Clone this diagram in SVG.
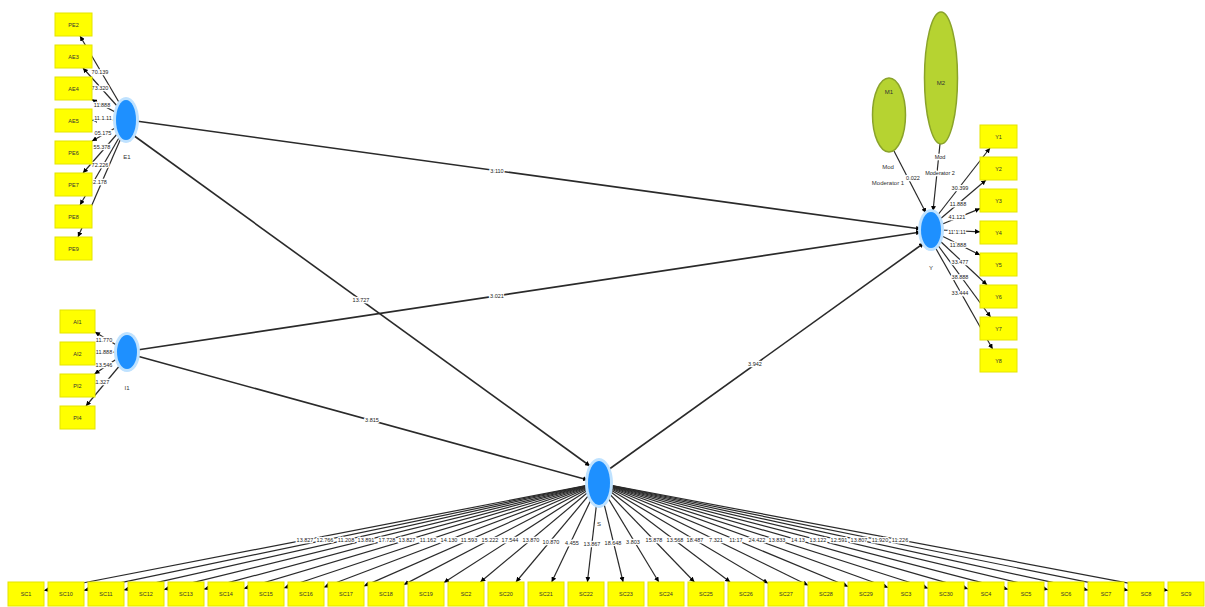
<svg xmlns="http://www.w3.org/2000/svg" width="1205" height="607" viewBox="0 0 1205 607">
<style>
.ind{fill:#ffff00;stroke:#e4e400;stroke-width:1}
.it{font-family:"Liberation Sans",Arial,sans-serif;font-size:5.5px;fill:#333;text-anchor:middle;dominant-baseline:central}
.lv{fill:#1e90ff}
.glow{fill:#bfe2ff}
.mod{fill:#b6d331;stroke:#8aa32a;stroke-width:1.5}
.c{stroke:#2a2a2a;stroke-width:1.2;fill:none;marker-end:url(#ah)}
.cs{stroke:#2a2a2a;stroke-width:1.6;fill:none;marker-end:url(#ah)}
.lb{font-family:"Liberation Sans",Arial,sans-serif;font-size:5.5px;fill:#222;text-anchor:middle;dominant-baseline:central;paint-order:stroke;stroke:#fff;stroke-width:2.5px}
.nl{font-family:"Liberation Sans",Arial,sans-serif;font-size:6px;fill:#333;text-anchor:middle;dominant-baseline:central}
</style>
<defs>
<marker id="ah" viewBox="0 0 10 10" refX="10" refY="5" markerWidth="5" markerHeight="5" orient="auto" markerUnits="userSpaceOnUse"><path d="M0,0 L10,5 L0,10 z" fill="#000"/></marker>
</defs>
<rect width="1205" height="607" fill="#fff"/>

<g id="connectors">
<!-- structural paths -->
<line class="cs" x1="136" y1="121" x2="921" y2="229"/>
<line class="cs" x1="137" y1="350" x2="921" y2="232"/>
<line class="cs" x1="133" y1="135" x2="590" y2="466"/>
<line class="cs" x1="137" y1="356" x2="588" y2="480"/>
<line class="cs" x1="608" y1="470" x2="924" y2="243"/>
<!-- moderators -->
<line class="c" x1="894" y1="151" x2="926" y2="213"/>
<line class="c" x1="940" y1="144" x2="933" y2="211"/>
<!-- E1 loadings -->
<line class="c" x1="120" y1="104" x2="80" y2="36"/>
<line class="c" x1="118" y1="107" x2="83" y2="68"/>
<line class="c" x1="117" y1="113" x2="92" y2="99.6"/>
<line class="c" x1="116" y1="120" x2="92" y2="120.3"/>
<line class="c" x1="117" y1="127" x2="92" y2="141"/>
<line class="c" x1="118" y1="133" x2="83" y2="173"/>
<line class="c" x1="120" y1="136" x2="80" y2="205"/>
<line class="c" x1="121" y1="138" x2="78" y2="237"/>
<!-- I1 loadings -->
<line class="c" x1="118" y1="346" x2="95" y2="332"/>
<line class="c" x1="117" y1="352" x2="95" y2="353"/>
<line class="c" x1="118" y1="358" x2="94.5" y2="374"/>
<line class="c" x1="121" y1="364" x2="86" y2="406"/>
<!-- Y loadings -->
<line class="c" x1="937" y1="216" x2="990" y2="148"/>
<line class="c" x1="939" y1="220" x2="986" y2="180"/>
<line class="c" x1="940" y1="225" x2="980" y2="208.6"/>
<line class="c" x1="941" y1="230" x2="980" y2="231.8"/>
<line class="c" x1="940" y1="235" x2="980" y2="255"/>
<line class="c" x1="939" y1="240" x2="987" y2="285"/>
<line class="c" x1="937" y1="244" x2="990.6" y2="317"/>
<line class="c" x1="935" y1="247" x2="992.6" y2="349"/>
<!-- S loadings -->
<line class="c" x1="599" y1="483" x2="44" y2="590.5"/>
<line class="c" x1="599" y1="483" x2="84" y2="590.3"/>
<line class="c" x1="599" y1="483" x2="124" y2="589.9"/>
<line class="c" x1="599" y1="483" x2="164" y2="589.6"/>
<line class="c" x1="599" y1="483" x2="204" y2="589.2"/>
<line class="c" x1="599" y1="483" x2="244" y2="588.6"/>
<line class="c" x1="599" y1="483" x2="284" y2="588"/>
<line class="c" x1="599" y1="483" x2="324" y2="587.2"/>
<line class="c" x1="599" y1="483" x2="364" y2="586.1"/>
<line class="c" x1="599" y1="483" x2="404" y2="584.6"/>
<line class="c" x1="599" y1="483" x2="444" y2="582.5"/>
<line class="c" x1="599" y1="483" x2="480.4" y2="582"/>
<line class="c" x1="599" y1="483" x2="516" y2="582"/>
<line class="c" x1="599" y1="483" x2="551.7" y2="582"/>
<line class="c" x1="599" y1="483" x2="587.4" y2="582"/>
<line class="c" x1="599" y1="483" x2="623.1" y2="582"/>
<line class="c" x1="599" y1="483" x2="658.8" y2="582"/>
<line class="c" x1="599" y1="483" x2="694.4" y2="582"/>
<line class="c" x1="599" y1="483" x2="730.1" y2="582"/>
<line class="c" x1="599" y1="483" x2="768" y2="583.3"/>
<line class="c" x1="599" y1="483" x2="808" y2="585.2"/>
<line class="c" x1="599" y1="483" x2="848" y2="586.5"/>
<line class="c" x1="599" y1="483" x2="888" y2="587.5"/>
<line class="c" x1="599" y1="483" x2="928" y2="588.2"/>
<line class="c" x1="599" y1="483" x2="968" y2="588.8"/>
<line class="c" x1="599" y1="483" x2="1008" y2="589.3"/>
<line class="c" x1="599" y1="483" x2="1048" y2="589.7"/>
<line class="c" x1="599" y1="483" x2="1088" y2="590.1"/>
<line class="c" x1="599" y1="483" x2="1128" y2="590.3"/>
<line class="c" x1="599" y1="483" x2="1168" y2="590.6"/>

<!-- path labels -->
<text class="lb" x="497" y="171">3.110</text>
<text class="lb" x="497" y="296">3.021</text>
<text class="lb" x="361" y="300">13.727</text>
<text class="lb" x="372" y="420">3.815</text>
<text class="lb" x="755" y="364">3.942</text>
<text class="lb" x="913" y="178">0.022</text>
<!-- E1 loading labels -->
<text class="lb" x="100" y="72">70.139</text>
<text class="lb" x="100" y="88">73.320</text>
<text class="lb" x="102" y="105">11.888</text>
<text class="lb" x="103" y="118">11.1.11</text>
<text class="lb" x="103" y="133">05.175</text>
<text class="lb" x="102" y="147">55.378</text>
<text class="lb" x="100" y="165">72.226</text>
<text class="lb" x="100" y="182">2.178</text>
<!-- I1 loading labels -->
<text class="lb" x="104" y="340">11.770</text>
<text class="lb" x="104" y="352">11.888</text>
<text class="lb" x="104" y="365">13.546</text>
<text class="lb" x="101" y="382">11.327</text>
<!-- Y loading labels -->
<text class="lb" x="960" y="188">30.399</text>
<text class="lb" x="958" y="204">11.888</text>
<text class="lb" x="957" y="217">41.121</text>
<text class="lb" x="957" y="232">11.1.11</text>
<text class="lb" x="958" y="245">11.888</text>
<text class="lb" x="960" y="262">33.477</text>
<text class="lb" x="960" y="277">38.888</text>
<text class="lb" x="960" y="293">33.444</text>
<!-- S loading labels -->
<text class="lb" x="305" y="540">13.827</text>
<text class="lb" x="325" y="540">12.766</text>
<text class="lb" x="346" y="540">11.208</text>
<text class="lb" x="366" y="540">13.891</text>
<text class="lb" x="387" y="540">17.728</text>
<text class="lb" x="407" y="540">13.827</text>
<text class="lb" x="428" y="540">11.162</text>
<text class="lb" x="449" y="540">14.130</text>
<text class="lb" x="469" y="540">11.593</text>
<text class="lb" x="490" y="540">15.222</text>
<text class="lb" x="510" y="540">17.544</text>
<text class="lb" x="531" y="540">13.870</text>
<text class="lb" x="551" y="542">10.870</text>
<text class="lb" x="572" y="543">4.455</text>
<text class="lb" x="592" y="544">13.867</text>
<text class="lb" x="613" y="543">18.648</text>
<text class="lb" x="633" y="542">3.803</text>
<text class="lb" x="654" y="540">15.878</text>
<text class="lb" x="675" y="540">13.568</text>
<text class="lb" x="695" y="540">18.487</text>
<text class="lb" x="716" y="540">7.321</text>
<text class="lb" x="736" y="540">11.17</text>
<text class="lb" x="757" y="540">24.422</text>
<text class="lb" x="777" y="540">13.833</text>
<text class="lb" x="798" y="540">14.13</text>
<text class="lb" x="818" y="540">13.122</text>
<text class="lb" x="839" y="540">12.591</text>
<text class="lb" x="859" y="540">13.807</text>
<text class="lb" x="880" y="540">11.920</text>
<text class="lb" x="900" y="540">11.226</text>
</g>

<!-- latent variables -->
<g id="E1"><ellipse class="glow" cx="126" cy="120" rx="13" ry="23"/><ellipse class="lv" cx="126" cy="120" rx="10" ry="20"/><text class="nl" x="127" y="157">E1</text></g>
<g id="I1"><ellipse class="glow" cx="127" cy="352" rx="13" ry="20"/><ellipse class="lv" cx="127" cy="352" rx="10" ry="17"/><text class="nl" x="127" y="388">I1</text></g>
<g id="Y"><ellipse class="glow" cx="931" cy="230" rx="13" ry="21"/><ellipse class="lv" cx="931" cy="230" rx="10" ry="18"/><text class="nl" x="931" y="268">Y</text></g>
<g id="S"><ellipse class="glow" cx="599" cy="483" rx="14" ry="25"/><ellipse class="lv" cx="599" cy="483" rx="11" ry="22"/><text class="nl" x="599" y="524">S</text></g>

<!-- moderators -->
<g id="M1"><ellipse class="mod" cx="889" cy="115" rx="16.5" ry="37"/><text class="nl" x="889" y="92">M1</text><text class="nl" x="888" y="167">Mod</text><text class="nl" x="888" y="183">Moderator 1</text></g>
<g id="M2"><ellipse class="mod" cx="941" cy="78" rx="16.5" ry="66"/><text class="nl" x="941" y="83">M2</text><text class="lb" x="940" y="157">Mod</text><text class="lb" x="940" y="173">Moderator 2</text></g>

<!-- E1 indicators -->
<g id="PE2"><rect class="ind" x="55" y="13" width="37" height="23"/><text class="it" x="73.5" y="24.5">PE2</text></g>
<g id="AE3"><rect class="ind" x="55" y="45" width="37" height="23"/><text class="it" x="73.5" y="56.5">AE3</text></g>
<g id="AE4"><rect class="ind" x="55" y="77" width="37" height="23"/><text class="it" x="73.5" y="88.5">AE4</text></g>
<g id="AE5"><rect class="ind" x="55" y="109" width="37" height="23"/><text class="it" x="73.5" y="120.5">AE5</text></g>
<g id="PE6"><rect class="ind" x="55" y="141" width="37" height="23"/><text class="it" x="73.5" y="152.5">PE6</text></g>
<g id="PE7"><rect class="ind" x="55" y="173" width="37" height="23"/><text class="it" x="73.5" y="184.5">PE7</text></g>
<g id="PE8"><rect class="ind" x="55" y="205" width="37" height="23"/><text class="it" x="73.5" y="216.5">PE8</text></g>
<g id="PE9"><rect class="ind" x="55" y="237" width="37" height="23"/><text class="it" x="73.5" y="248.5">PE9</text></g>

<!-- I1 indicators -->
<g id="AI1"><rect class="ind" x="60" y="310" width="35" height="23"/><text class="it" x="77.5" y="321.5">AI1</text></g>
<g id="AI2"><rect class="ind" x="60" y="342" width="35" height="23"/><text class="it" x="77.5" y="353.5">AI2</text></g>
<g id="PI2"><rect class="ind" x="60" y="374" width="35" height="23"/><text class="it" x="77.5" y="385.5">PI2</text></g>
<g id="PI4"><rect class="ind" x="60" y="406" width="35" height="23"/><text class="it" x="77.5" y="417.5">PI4</text></g>

<!-- Y indicators -->
<g id="Y1"><rect class="ind" x="980" y="125" width="37" height="23"/><text class="it" x="998.5" y="136.5">Y1</text></g>
<g id="Y2"><rect class="ind" x="980" y="157" width="37" height="23"/><text class="it" x="998.5" y="168.5">Y2</text></g>
<g id="Y3"><rect class="ind" x="980" y="189" width="37" height="23"/><text class="it" x="998.5" y="200.5">Y3</text></g>
<g id="Y4"><rect class="ind" x="980" y="221" width="37" height="23"/><text class="it" x="998.5" y="232.5">Y4</text></g>
<g id="Y5"><rect class="ind" x="980" y="253" width="37" height="23"/><text class="it" x="998.5" y="264.5">Y5</text></g>
<g id="Y6"><rect class="ind" x="980" y="285" width="37" height="23"/><text class="it" x="998.5" y="296.5">Y6</text></g>
<g id="Y7"><rect class="ind" x="980" y="317" width="37" height="23"/><text class="it" x="998.5" y="328.5">Y7</text></g>
<g id="Y8"><rect class="ind" x="980" y="349" width="37" height="23"/><text class="it" x="998.5" y="360.5">Y8</text></g>

<!-- S indicators -->
<g id="SC1"><rect class="ind" x="8" y="582" width="36" height="24"/><text class="it" x="26" y="594">SC1</text></g>
<g id="SC10"><rect class="ind" x="48" y="582" width="36" height="24"/><text class="it" x="66" y="594">SC10</text></g>
<g id="SC11"><rect class="ind" x="88" y="582" width="36" height="24"/><text class="it" x="106" y="594">SC11</text></g>
<g id="SC12"><rect class="ind" x="128" y="582" width="36" height="24"/><text class="it" x="146" y="594">SC12</text></g>
<g id="SC13"><rect class="ind" x="168" y="582" width="36" height="24"/><text class="it" x="186" y="594">SC13</text></g>
<g id="SC14"><rect class="ind" x="208" y="582" width="36" height="24"/><text class="it" x="226" y="594">SC14</text></g>
<g id="SC15"><rect class="ind" x="248" y="582" width="36" height="24"/><text class="it" x="266" y="594">SC15</text></g>
<g id="SC16"><rect class="ind" x="288" y="582" width="36" height="24"/><text class="it" x="306" y="594">SC16</text></g>
<g id="SC17"><rect class="ind" x="328" y="582" width="36" height="24"/><text class="it" x="346" y="594">SC17</text></g>
<g id="SC18"><rect class="ind" x="368" y="582" width="36" height="24"/><text class="it" x="386" y="594">SC18</text></g>
<g id="SC19"><rect class="ind" x="408" y="582" width="36" height="24"/><text class="it" x="426" y="594">SC19</text></g>
<g id="SC2"><rect class="ind" x="448" y="582" width="36" height="24"/><text class="it" x="466" y="594">SC2</text></g>
<g id="SC20"><rect class="ind" x="488" y="582" width="36" height="24"/><text class="it" x="506" y="594">SC20</text></g>
<g id="SC21"><rect class="ind" x="528" y="582" width="36" height="24"/><text class="it" x="546" y="594">SC21</text></g>
<g id="SC22"><rect class="ind" x="568" y="582" width="36" height="24"/><text class="it" x="586" y="594">SC22</text></g>
<g id="SC23"><rect class="ind" x="608" y="582" width="36" height="24"/><text class="it" x="626" y="594">SC23</text></g>
<g id="SC24"><rect class="ind" x="648" y="582" width="36" height="24"/><text class="it" x="666" y="594">SC24</text></g>
<g id="SC25"><rect class="ind" x="688" y="582" width="36" height="24"/><text class="it" x="706" y="594">SC25</text></g>
<g id="SC26"><rect class="ind" x="728" y="582" width="36" height="24"/><text class="it" x="746" y="594">SC26</text></g>
<g id="SC27"><rect class="ind" x="768" y="582" width="36" height="24"/><text class="it" x="786" y="594">SC27</text></g>
<g id="SC28"><rect class="ind" x="808" y="582" width="36" height="24"/><text class="it" x="826" y="594">SC28</text></g>
<g id="SC29"><rect class="ind" x="848" y="582" width="36" height="24"/><text class="it" x="866" y="594">SC29</text></g>
<g id="SC3"><rect class="ind" x="888" y="582" width="36" height="24"/><text class="it" x="906" y="594">SC3</text></g>
<g id="SC30"><rect class="ind" x="928" y="582" width="36" height="24"/><text class="it" x="946" y="594">SC30</text></g>
<g id="SC4"><rect class="ind" x="968" y="582" width="36" height="24"/><text class="it" x="986" y="594">SC4</text></g>
<g id="SC5"><rect class="ind" x="1008" y="582" width="36" height="24"/><text class="it" x="1026" y="594">SC5</text></g>
<g id="SC6"><rect class="ind" x="1048" y="582" width="36" height="24"/><text class="it" x="1066" y="594">SC6</text></g>
<g id="SC7"><rect class="ind" x="1088" y="582" width="36" height="24"/><text class="it" x="1106" y="594">SC7</text></g>
<g id="SC8"><rect class="ind" x="1128" y="582" width="36" height="24"/><text class="it" x="1146" y="594">SC8</text></g>
<g id="SC9"><rect class="ind" x="1168" y="582" width="36" height="24"/><text class="it" x="1186" y="594">SC9</text></g>
</svg>
